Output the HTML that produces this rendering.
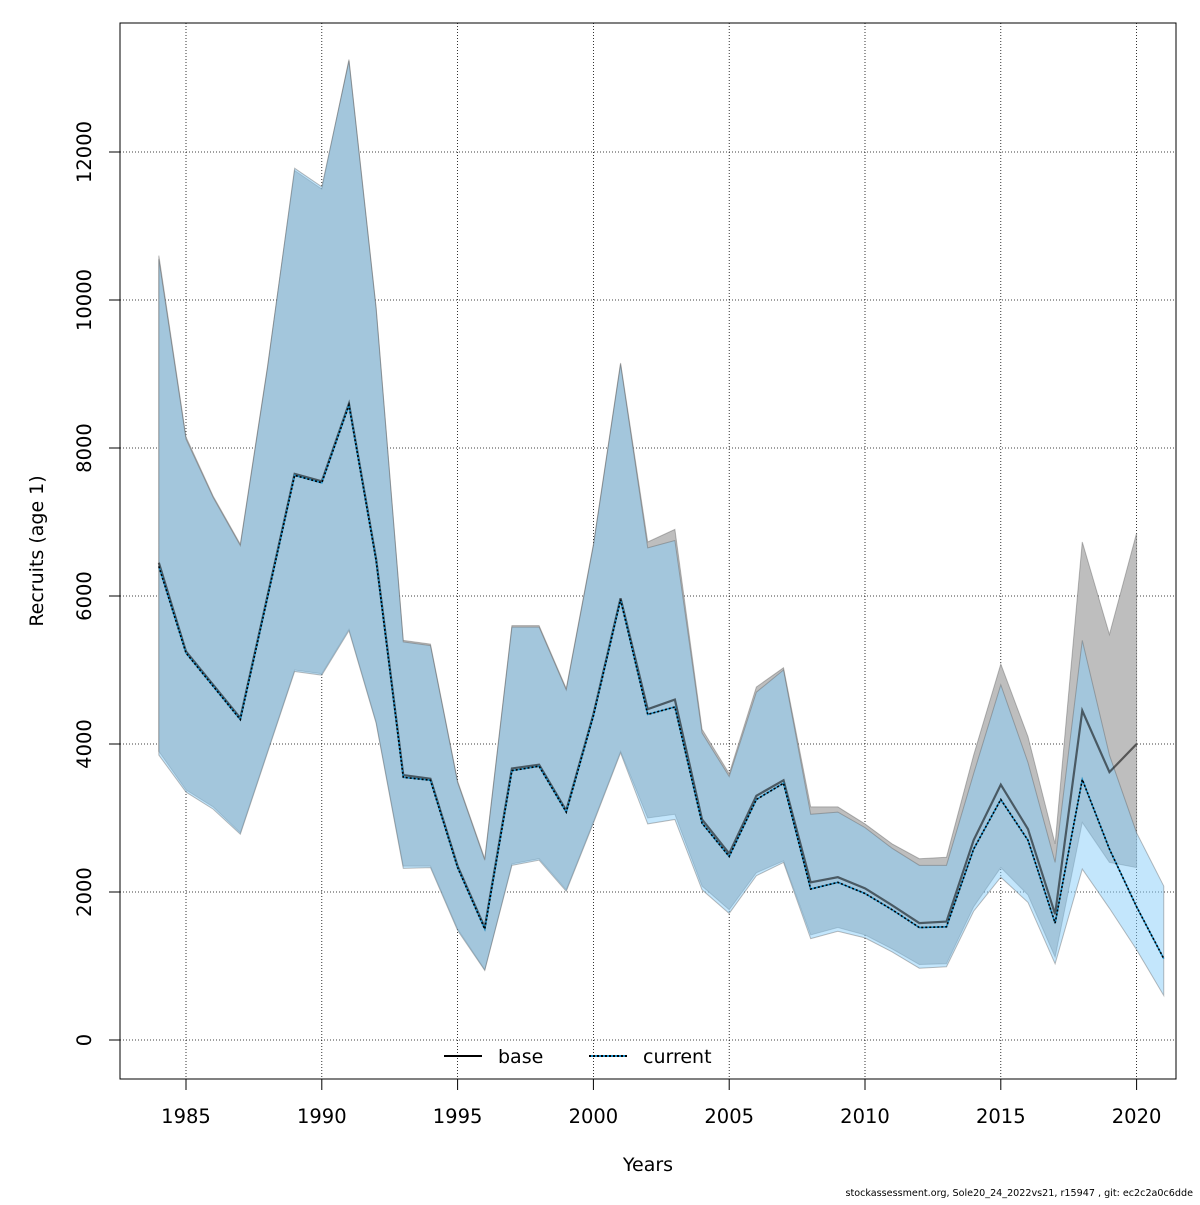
<!DOCTYPE html>
<html><head><meta charset="utf-8"><style>
body{margin:0;background:#fff}
svg text{font-family:"DejaVu Sans","Liberation Sans",sans-serif;fill:#000}
</style></head><body>
<svg id="chart" width="1200" height="1200" xmlns="http://www.w3.org/2000/svg">
<g id="grid"></g>
<g id="bands"></g>
<g id="lines"></g>
<rect x="120" y="23" width="1056" height="1056" fill="none" stroke="#000" stroke-width="1"/>
<g id="axes"></g>
<text x="648" y="1171" font-size="19" text-anchor="middle">Years</text>
<text transform="translate(43,551) rotate(-90)" font-size="19" text-anchor="middle">Recruits (age 1)</text>
<g>
<line x1="444" y1="1056" x2="482" y2="1056" stroke="#000" stroke-width="2"/>
<text x="498" y="1063" font-size="19">base</text>
<line x1="589" y1="1056" x2="627" y2="1056" stroke="#1e90c8" stroke-width="2"/>
<line x1="589" y1="1056" x2="627" y2="1056" stroke="#000" stroke-width="2" stroke-dasharray="2,2"/>
<text x="643" y="1063" font-size="19">current</text>
</g>
<text x="1193" y="1196" font-size="9.6" text-anchor="end">stockassessment.org, Sole20_24_2022vs21, r15947 , git: ec2c2a0c6dde</text>
</svg>
<script>
const baseYears=[1984,1985,1986,1987,1988,1989,1990,1991,1992,1993,1994,1995,1996,1997,1998,1999,2000,2001,2002,2003,2004,2005,2006,2007,2008,2009,2010,2011,2012,2013,2014,2015,2016,2017,2018,2019,2020];
const baseVal=[6450,5250,4800,4350,6000,7650,7550,8600,6500,3580,3530,2350,1520,3670,3720,3100,4400,5970,4470,4600,2980,2520,3300,3510,2130,2200,2050,1820,1580,1600,2700,3450,2850,1700,4450,3620,4000];
const baseHi=[10600,8150,7350,6700,9100,11750,11500,13250,9900,5400,5350,3500,2450,5600,5600,4750,6700,9150,6730,6900,4200,3600,4770,5030,3150,3150,2920,2650,2450,2470,3850,5080,4100,2650,6730,5480,6850];
const baseLo=[3900,3380,3150,2800,3900,5000,4950,5550,4300,2350,2350,1500,950,2380,2450,2030,2950,3900,3000,3050,2080,1760,2260,2420,1420,1520,1420,1230,1020,1030,1800,2330,1960,1120,2940,2400,2330];
const curYears=[1984,1985,1986,1987,1988,1989,1990,1991,1992,1993,1994,1995,1996,1997,1998,1999,2000,2001,2002,2003,2004,2005,2006,2007,2008,2009,2010,2011,2012,2013,2014,2015,2016,2017,2018,2019,2020,2021];
const curVal=[6400,5230,4780,4330,5980,7630,7530,8580,6480,3550,3510,2330,1500,3640,3700,3080,4380,5950,4400,4500,2930,2480,3250,3470,2040,2130,1980,1760,1520,1530,2580,3250,2700,1580,3520,2580,1800,1100];
const curHi=[10550,8120,7330,6680,9080,11780,11530,13230,9880,5380,5330,3480,2430,5580,5580,4730,6680,9130,6650,6750,4150,3560,4700,5000,3050,3080,2870,2590,2360,2360,3600,4800,3750,2400,5400,3850,2800,2080];
const curLo=[3850,3350,3120,2780,3880,4980,4930,5530,4280,2320,2330,1480,940,2360,2430,2010,2930,3880,2920,2980,2030,1710,2220,2400,1370,1470,1380,1190,970,990,1740,2200,1860,1030,2310,1780,1220,600];
const xTicks=[1985,1990,1995,2000,2005,2010,2015,2020];
const yTicks=[0,2000,4000,6000,8000,10000,12000];
const NS="http://www.w3.org/2000/svg";
const X=y=>186+(y-1985)*27.16, Y=v=>1040-v*0.074;
function mk(p,t,a){const e=document.createElementNS(NS,t);for(const k in a)e.setAttribute(k,a[k]);p.appendChild(e);return e;}
const grid=document.getElementById('grid'),axes=document.getElementById('axes'),bands=document.getElementById('bands'),lines=document.getElementById('lines');
xTicks.forEach(t=>{
 const g=mk(grid,'line',{x1:X(t),x2:X(t),y1:23,y2:1079,stroke:'#000','stroke-width':0.8,'stroke-dasharray':'1,2'});
 
 
 const k=mk(axes,'line',{x1:X(t),x2:X(t),y1:1079,y2:1090,stroke:'#000'});
 
 
 const l=mk(axes,'text',{x:X(t),y:1123,'font-size':19.5,'text-anchor':'middle'});l.textContent=t;
 
 
});
yTicks.forEach(t=>{
 const g=mk(grid,'line',{x1:120,x2:1176,y1:Y(t),y2:Y(t),stroke:'#000','stroke-width':0.8,'stroke-dasharray':'1,2'});
 
 
 const k=mk(axes,'line',{x1:109,x2:120,y1:Y(t),y2:Y(t),stroke:'#000'});
 
 
 const l=mk(axes,'text',{transform:`translate(91,${Y(t)}) rotate(-90)`,'font-size':19.5,'text-anchor':'middle'});l.textContent=t;
 
 
});
function band(yrs,hi,lo,fill,name){
 const pts=yrs.map((y,i)=>X(y)+','+Y(hi[i])).concat(yrs.map((y,i)=>X(y)+','+Y(lo[i])).reverse());
 const p=mk(bands,'polygon',{points:pts.join(' '),fill:fill,stroke:'rgba(90,90,90,0.4)','stroke-width':1});
 
 
}
band(baseYears,baseHi,baseLo,'rgb(190,190,190)','base-ci-band');
band(curYears,curHi,curLo,'rgba(135,206,250,0.5)','current-ci-band');
function line(yrs,v,attrs,name){
 const p=mk(lines,'polyline',Object.assign({points:yrs.map((y,i)=>X(y)+','+Y(v[i])).join(' '),fill:'none'},attrs));
 
 
}
line(baseYears,baseVal,{stroke:'rgba(0,0,0,0.55)','stroke-width':2.2},'base-line');
line(curYears,curVal,{stroke:'#1e90c8','stroke-width':1.6},'current-line-bg');
line(curYears,curVal,{stroke:'#000','stroke-width':1.6,'stroke-dasharray':'2,2'},'current-line');
</script>
</body></html>
